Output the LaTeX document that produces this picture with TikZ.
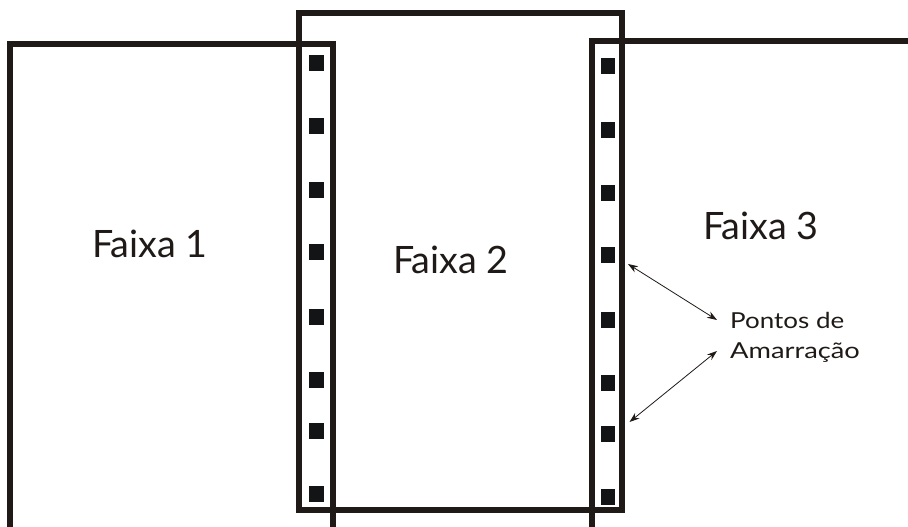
\documentclass[tikz,border=0pt]{standalone}
\usepackage{fontspec}
\setmainfont{Lato}
\usetikzlibrary{arrows.meta}
\definecolor{ink}{HTML}{1F1A17}
\definecolor{sq}{HTML}{131416}
\begin{document}
\begin{tikzpicture}[x=1pt,y=-1pt,
  faixa/.style={draw=ink,line width=6pt},
  ponto/.style={fill=sq,minimum width=15pt,minimum height=16pt,inner sep=0pt,outer sep=0pt},
  rotulo/.style={font=\fontsize{37.7}{40}\selectfont,text=ink,inner sep=0pt,anchor=base west},
  nota/.style={font=\fontsize{22}{30}\selectfont,text=ink,inner sep=0pt,anchor=base west},
  seta/.style={{Stealth[length=10pt,width=7pt]}-{Stealth[length=10pt,width=7pt]},line width=0.8pt,draw=ink}]
\useasboundingbox (0,0) rectangle (908,527);
\clip (0,0) rectangle (908,527);
\fill[white] (0,0) rectangle (908,527);
% strips
\draw[faixa] (10,44) rectangle (332.5,560);
\draw[faixa] (298.5,13) rectangle (622,510);
\draw[faixa] (592,40.7) rectangle (940,560);
% tie points
\foreach \y [count=\i] in {63,126,190,252,317,380,431,494}
  \node[ponto] (pe\i) at (316.5,\y) {};
\foreach \y [count=\i] in {66,129.5,193,255,320,383,434,497}
  \node[ponto,minimum width=14pt] (pd\i) at (608,\y) {};
% labels
\node[rotulo] (f1) at (92,257) {Faixa 1};
\node[rotulo] (f2) at (393,273) {Faixa 2};
\node[rotulo] (f3) at (703,239) {Faixa 3};
\node[nota] (n1) at (730,328) {\scalebox{1.18}[1]{Pontos de}};
\node[nota] (n2) at (730,358) {\scalebox{1.24}[1]{Amarração}};
% arrows
\coordinate (a1) at (628,264);
\coordinate (b1) at (717,320);
\coordinate (a2) at (629.5,422);
\coordinate (b2) at (717,351);
\draw[seta] (a1) -- (b1);
\draw[seta] (b2) -- (a2);
\end{tikzpicture}
\end{document}
